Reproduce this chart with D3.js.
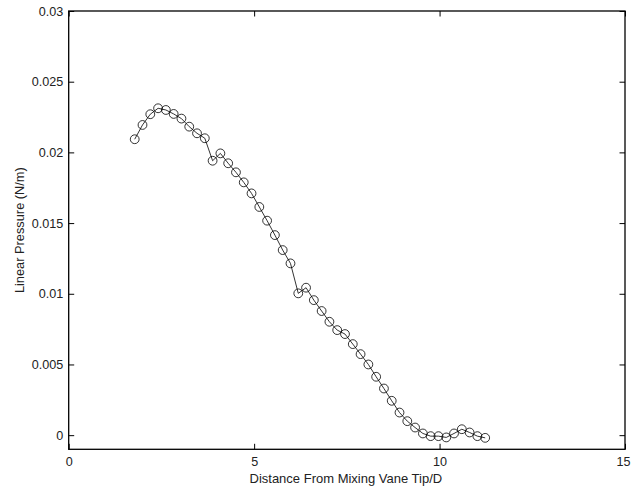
<!DOCTYPE html>
<html><head><meta charset="utf-8">
<script src="https://cdn.jsdelivr.net/npm/d3@7/dist/d3.min.js"></script>
<style>
body{margin:0;background:#fff;}
text{font-family:"Liberation Sans",Arial,Helvetica,sans-serif;}
</style></head>
<body><svg id="c" width="631" height="491"></svg>
<script>
const distance = [1.78, 1.99, 2.20, 2.41, 2.62, 2.83, 3.04, 3.25, 3.46, 3.67, 3.88, 4.09, 4.30, 4.51, 4.72, 4.93, 5.14, 5.35, 5.56, 5.77, 5.98, 6.19, 6.40, 6.61, 6.82, 7.03, 7.24, 7.45, 7.66, 7.87, 8.08, 8.29, 8.50, 8.71, 8.92, 9.13, 9.34, 9.55, 9.76, 9.97, 10.18, 10.39, 10.60, 10.81, 11.02, 11.23];
const pressure = [0.02093, 0.02194, 0.02270, 0.02312, 0.02300, 0.02272, 0.02239, 0.02182, 0.02135, 0.02100, 0.01941, 0.01993, 0.01923, 0.01859, 0.01788, 0.01710, 0.01614, 0.01517, 0.01415, 0.01309, 0.01215, 0.01003, 0.01043, 0.00955, 0.00878, 0.00802, 0.00743, 0.00715, 0.00644, 0.00573, 0.00500, 0.00413, 0.00330, 0.00243, 0.00160, 0.00099, 0.00054, 0.00012, -0.00007, -0.00007, -0.00016, 0.00012, 0.00042, 0.00019, -0.00007, -0.00019];
const xTicks = [0, 5, 10, 15];
const yTicks = [0, 0.005, 0.01, 0.015, 0.02, 0.025, 0.03];
const xLabel = "Distance From Mixing Vane Tip/D";
const yLabel = "Linear Pressure (N/m)";

const L = 68.7, R = 625, T = 11, B = 449.3;
const x = d3.scaleLinear().domain([0, 15]).range([L, R]);
const y = d3.scaleLinear().domain([-0.001, 0.03]).range([B, T]);
const svg = d3.select("#c");
const tl = 5.5;

const fmtY = d => d === 0 ? "0" : String(+d.toFixed(3));
svg.append("g").attr("transform", `translate(0,${B})`)
  .call(d3.axisBottom(x).tickValues(xTicks).tickSize(-tl).tickPadding(7.5).tickFormat(d3.format("d")))
  .call(g => g.select(".domain").remove())
  .call(g => g.selectAll(".tick text").filter(d => d === 15).attr("dx", -2));
svg.append("g").attr("transform", `translate(0,${T})`)
  .call(d3.axisTop(x).tickValues(xTicks).tickSize(-tl).tickFormat(""))
  .call(g => g.select(".domain").remove());
svg.append("g").attr("transform", `translate(${L},0)`)
  .call(d3.axisLeft(y).tickValues(yTicks).tickSize(-tl).tickPadding(5.5).tickFormat(fmtY))
  .call(g => g.select(".domain").remove());
svg.append("g").attr("transform", `translate(${R},0)`)
  .call(d3.axisRight(y).tickValues(yTicks).tickSize(-tl).tickFormat(""))
  .call(g => g.select(".domain").remove());
svg.selectAll(".tick line").attr("stroke", "#000").attr("stroke-width", 1);
svg.selectAll(".tick text").attr("font-size", 12.6).attr("fill", "#222")
  .attr("font-family", "'Liberation Sans',Arial,sans-serif");

svg.append("rect").attr("x", L).attr("y", T).attr("width", R - L).attr("height", B - T)
  .attr("fill", "none").attr("stroke", "#000").attr("stroke-width", 1.3);

const pts = distance.map((d, i) => [d, pressure[i]]);
svg.append("path").datum(pts)
  .attr("d", d3.line().x(d => x(d[0])).y(d => y(d[1])))
  .attr("fill", "none").attr("stroke", "#000").attr("stroke-width", 0.8);
svg.append("g").selectAll("circle").data(pts).join("circle")
  .attr("cx", d => x(d[0])).attr("cy", d => y(d[1])).attr("r", 4.4)
  .attr("fill", "none").attr("stroke", "#000").attr("stroke-width", 0.8);

svg.append("text").attr("x", (L + R) / 2 - 1).attr("y", 483).attr("text-anchor", "middle")
  .attr("font-size", 13).attr("fill", "#222").text(xLabel);
svg.append("text").attr("transform", `translate(24,${(T + B) / 2}) rotate(-90)`)
  .attr("text-anchor", "middle").attr("font-size", 12.8).attr("fill", "#222").text(yLabel);
</script></body></html>
